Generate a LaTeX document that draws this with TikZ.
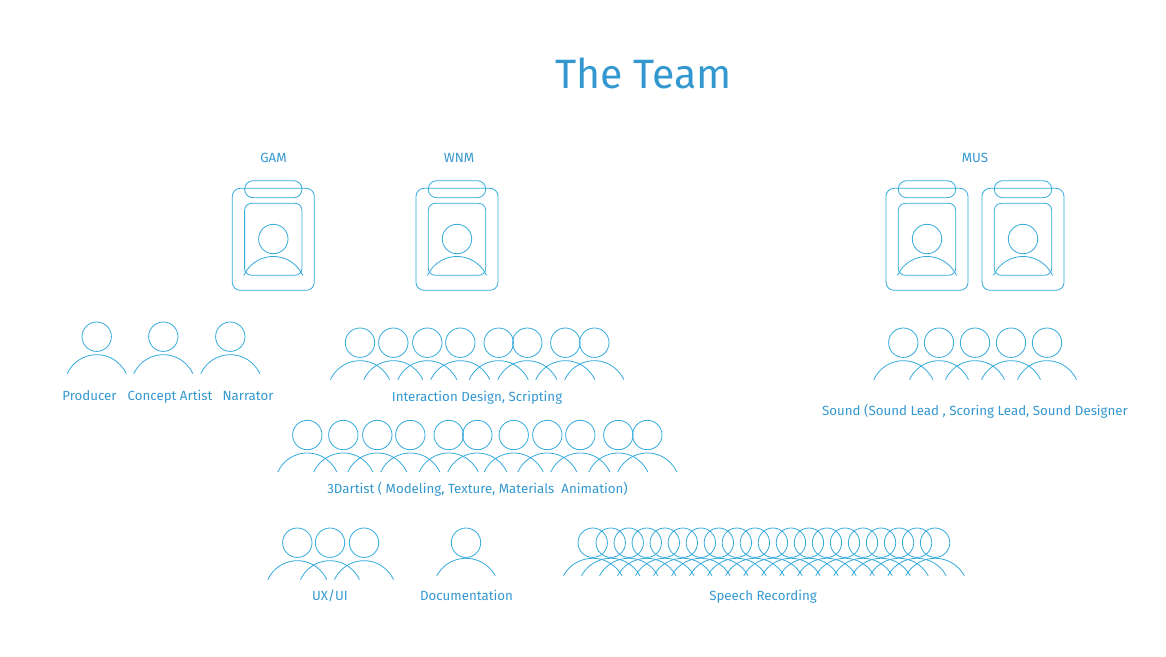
\documentclass[tikz,border=0pt]{standalone}
\usepackage{fontspec}
\setmainfont{Fira Sans}
\usepackage{tikz}
\definecolor{teamblue}{RGB}{52,152,208}
\definecolor{linkblue}{RGB}{50,170,220}
\tikzset{
  title/.style={font=\fontsize{41}{41}\selectfont, text=teamblue, inner sep=0pt},
  label/.style={font=\fontsize{13.3}{15}\selectfont, text=teamblue, inner sep=0pt},
  outline/.style={draw=linkblue, line width=0.8pt},
  person/.pic={
    \draw[outline] (0,0) circle (14.7);
    \draw[outline] (-29.5,37) arc (204.4:335.6:32.4);
  },
  lowperson/.pic={
    \draw[outline] (0,0) circle (14.7);
    \draw[outline] (-29.2,33) arc (208.4:331.6:33.2);
  },
  badge/.pic={
    \draw[outline, rounded corners=8pt] (-41,-50.7) rectangle (41,51.3);
    \draw[outline, rounded corners=8.4pt] (-28.7,-58.3) rectangle (28.7,-41.3);
    \draw[outline, rounded corners=7pt] (-28.7,-35.7) rectangle (28.7,36.3);
    \draw[outline] (0,0) circle (14.7);
    \draw[outline] (-29.5,36.5) arc (204.4:335.6:32.4);
  }
}
\begin{document}
\begin{tikzpicture}[x=1pt, y=-1pt]
  \useasboundingbox (0,0) rectangle (1166,656);
  \node[title] (team) at (643.5,73) {The Team};
  % leads
  \node[label] (gam) at (273.5,158) {GAM};
  \node[label] (wnm) at (459,158) {WNM};
  \node[label] (mus) at (975,158) {MUS};
  \foreach \x in {273.3,457,927,1023}
    \pic at (\x,239) {badge};
  % first row
  \foreach \x in {96.7,163.3,230.3}
    \pic at (\x,336.7) {person};
  \foreach \x in {360,393.3,427.3,460.3,498.7,527.3,565.3,594.3}
    \pic at (\x,342.7) {person};
  \foreach \x in {903.3,939,975,1011,1047}
    \pic at (\x,342.7) {person};
  \node[label] (producer) at (89.5,396) {Producer};
  \node[label] (concept) at (170,397) {Concept Artist};
  \node[label] (narrator) at (248,396) {Narrator};
  \node[label] (design) at (477,397.5) {Interaction Design, Scripting};
  \node[label] (sound) at (975,411) {Sound (Sound Lead , Scoring Lead, Sound Designer};
  % second row
  \foreach \x in {307.3,343.3,377.3,410.3,448.7,477.3,513.7,547.3,580.3,618.3,647.3}
    \pic at (\x,435) {person};
  \node[label] (artist) at (477.5,489) {3Dartist ( Modeling, Texture, Materials\ \ Animation)};
  % third row
  \foreach \x in {297.3,330,364}
    \pic at (\x,542.7) {person};
  \pic at (466,542.7) {lowperson};
  \foreach \i in {0,...,19}
    \pic at ({592.7+18.02*\i},542.7) {lowperson};
  \node[label] (ux) at (330,596) {UX/UI};
  \node[label] (docs) at (466.5,595.5) {Documentation};
  \node[label] (speech) at (763,596.5) {Speech Recording};
\end{tikzpicture}
\end{document}
